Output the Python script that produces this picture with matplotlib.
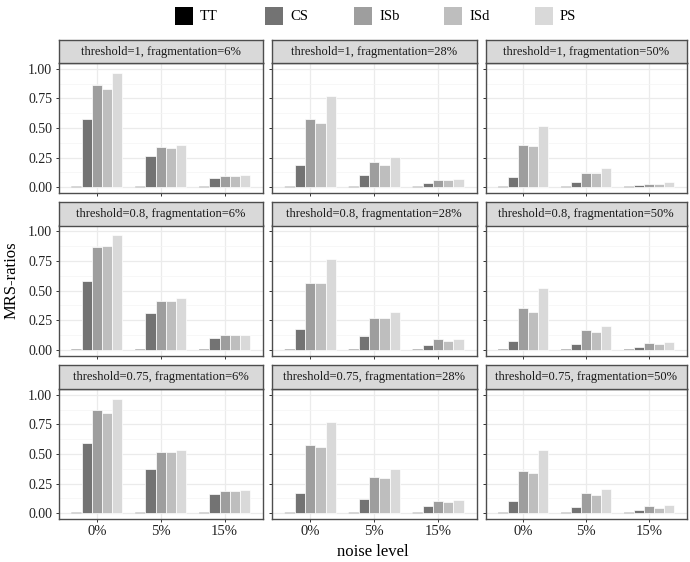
import matplotlib
matplotlib.use("Agg")
import matplotlib.pyplot as plt
from matplotlib.patches import Rectangle
import numpy as np

plt.rcParams['font.family'] = ['Liberation Serif', 'DejaVu Serif']

methods = ["TT", "CS", "ISb", "ISd", "PS"]
noise_levels = ["0%", "5%", "15%"]
thresholds = ["1", "0.8", "0.75"]
fragmentations = ["6%", "28%", "50%"]
colors = ["#000000", "#737373", "#9e9e9e", "#bebebe", "#d9d9d9"]

# values[threshold][fragmentation] -> rows = methods, cols = noise levels
tt = [0.002, 0.002, 0.002]
t1_f6 = [tt, [0.579, 0.266, 0.076], [0.867, 0.342, 0.096], [0.828, 0.331, 0.096], [0.966, 0.353, 0.100]]
t1_f28 = [tt, [0.184, 0.100, 0.031], [0.573, 0.209, 0.056], [0.545, 0.184, 0.056], [0.771, 0.251, 0.068]]
t1_f50 = [tt, [0.082, 0.040, 0.014], [0.353, 0.121, 0.028], [0.345, 0.121, 0.028], [0.520, 0.164, 0.042]]
t08_f6 = [tt, [0.579, 0.308, 0.099], [0.867, 0.410, 0.121], [0.873, 0.410, 0.121], [0.969, 0.438, 0.127]]
t08_f28 = [tt, [0.172, 0.119, 0.042], [0.562, 0.266, 0.090], [0.562, 0.266, 0.073], [0.768, 0.319, 0.090]]
t08_f50 = [tt, [0.071, 0.048, 0.023], [0.350, 0.164, 0.054], [0.314, 0.147, 0.048], [0.517, 0.198, 0.062]]
t075_f6 = [tt, [0.596, 0.375, 0.158], [0.876, 0.518, 0.189], [0.851, 0.515, 0.183], [0.963, 0.530, 0.192]]
t075_f28 = [tt, [0.172, 0.118, 0.059], [0.580, 0.307, 0.101], [0.563, 0.299, 0.093], [0.772, 0.369, 0.110]]
t075_f50 = [tt, [0.099, 0.051, 0.025], [0.358, 0.167, 0.056], [0.341, 0.155, 0.042], [0.530, 0.206, 0.065]]

panels = [[t1_f6, t1_f28, t1_f50],
          [t08_f6, t08_f28, t08_f50],
          [t075_f6, t075_f28, t075_f50]]

W, H = 690, 562
fig = plt.figure(figsize=(W / 100, H / 100), dpi=100)

def fx(px):
    return px / W

def fy(py):
    return 1 - py / H

col_x = [(58.5, 263), (272, 476.5), (485.5, 687)]
row_y = [(40, 63, 193), (202, 225.5, 355.5), (365, 389, 519)]

border = "#4d4d4d"
grid_major = "#ebebeb"
grid_minor = "#f4f4f4"

n = len(methods)
total_w = 0.8
bw = total_w / n
x = np.arange(len(noise_levels))

for r in range(3):
    st, pt, pb = row_y[r]
    for c in range(3):
        x0, x1 = col_x[c]
        ax = fig.add_axes([fx(x0), fy(pb), fx(x1) - fx(x0), (pb - pt) / H])
        data = panels[r][c]
        for m in range(n):
            bars = ax.bar(x - total_w / 2 + bw * (m + 0.5), data[m], width=bw,
                          color=colors[m], edgecolor="white",
                          linewidth=0.5 if m > 0 else 0, zorder=3)
            if m == 0:
                for b in bars:
                    b.set_snap(False)
        ax.set_xlim(-0.6, 2.6)
        ax.set_ylim(-0.05, 1.05)
        ax.set_yticks([0, 0.25, 0.5, 0.75, 1.0])
        ax.set_yticks([0.125, 0.375, 0.625, 0.875], minor=True)
        ax.set_xticks(x)
        ax.grid(True, which="major", color=grid_major, linewidth=0.9, zorder=0)
        ax.grid(True, which="minor", axis="y", color=grid_minor, linewidth=0.5, zorder=0)
        ax.set_axisbelow(True)
        for s in ax.spines.values():
            s.set_color(border)
            s.set_linewidth(1.0)
        ax.tick_params(axis="both", which="major", length=2.5, width=0.7, color="#333333",
                       labelsize=10, labelcolor="#222222", pad=2)
        ax.tick_params(axis="y", which="minor", length=0)
        if c == 0:
            ax.set_yticklabels(["0.00", "0.25", "0.50", "0.75", "1.00"])
        else:
            ax.set_yticklabels([])
        if r == 2:
            ax.set_xticklabels(noise_levels, fontsize=10.5)
        else:
            ax.set_xticklabels([])
        # strip
        sax = fig.add_axes([fx(x0), fy(pt), fx(x1) - fx(x0), (pt - st) / H])
        sax.set_facecolor("#d9d9d9")
        sax.set_xticks([])
        sax.set_yticks([])
        for s in sax.spines.values():
            s.set_color(border)
            s.set_linewidth(1.0)
        sax.text(0.5, 0.5, f"threshold={thresholds[r]}, fragmentation={fragmentations[c]}",
                 ha="center", va="center", fontsize=9, color="#1a1a1a",
                 transform=sax.transAxes)

fig.text(fx(373), fy(552), "noise level", ha="center", va="center", fontsize=12)
fig.text(fx(12), fy(280), "MRS-ratios", ha="center", va="center", fontsize=12, rotation=90)

# legend
key_x = [175, 265, 354, 444, 535]
for m in range(n):
    kx = key_x[m]
    fig.patches.append(Rectangle((fx(kx), fy(25)), 18 / W, 18 / H, transform=fig.transFigure,
                                 facecolor=colors[m], edgecolor="none"))
    fig.text(fx(kx + 25), fy(16), methods[m], ha="left", va="center", fontsize=10.5)

fig.savefig("out.png", dpi=100)
